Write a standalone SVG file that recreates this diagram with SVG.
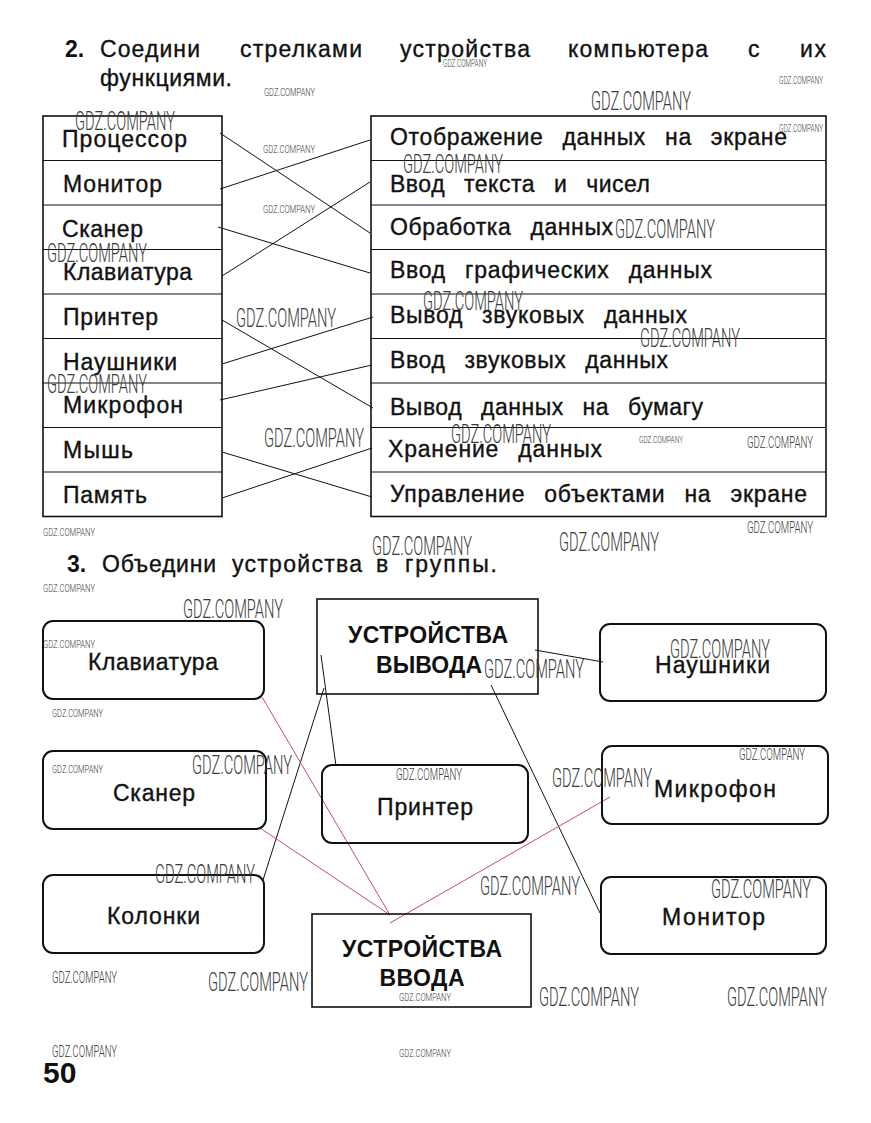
<svg xmlns="http://www.w3.org/2000/svg" width="871" height="1123" viewBox="0 0 871 1123">
<style>
.t{font-family:"Liberation Sans",Arial,sans-serif;font-size:23px;fill:#111;stroke:#111;stroke-width:0.35}
.b{font-family:"Liberation Sans",Arial,sans-serif;font-size:23px;font-weight:bold;fill:#111}
.rt{word-spacing:12px}
.box{fill:none;stroke:#111;stroke-width:1.6}
.rbox{fill:none;stroke:#111;stroke-width:2}
.ln{stroke:#111;stroke-width:1;fill:none}
.pk{stroke:#c44a78;stroke-width:1;fill:none}
.wm{font-family:Roboto,"Liberation Sans",sans-serif;font-weight:300;fill:#3a3a3a}
.wl{font-size:25px}
.wmd{font-size:17px}
.ws{font-size:11px}
</style>
<rect width="871" height="1123" fill="#fff"/>

<g id="title2">
<text class="b" x="65" y="57">2.</text>
<text class="t" x="100" y="57" textLength="100">Соедини</text>
<text class="t" x="240" y="57" textLength="122">стрелками</text>
<text class="t" x="400" y="57" textLength="130">устройства</text>
<text class="t" x="568" y="57" textLength="140">компьютера</text>
<text class="t" x="748" y="57">с</text>
<text class="t" x="800" y="57" textLength="26">их</text>
<text class="t" x="100" y="86" textLength="132">функциями.</text>
</g>

<g id="left-table">
<rect class="box" x="43" y="116" width="179" height="400.5"/>
<path class="ln" stroke-width="1.4" d="M43 160.5H222M43 205H222M43 249.5H222M43 294H222M43 338.5H222M43 383H222M43 427.5H222M43 472H222"/>
<text class="t" x="62" y="147" textLength="125">Процессор</text>
<text class="t" x="63" y="192" textLength="99">Монитор</text>
<text class="t" x="62" y="237" textLength="81">Сканер</text>
<text class="t" x="63" y="280" textLength="129">Клавиатура</text>
<text class="t" x="63" y="325" textLength="95">Принтер</text>
<text class="t" x="63" y="370" textLength="114">Наушники</text>
<text class="t" x="63" y="413" textLength="120">Микрофон</text>
<text class="t" x="63" y="458" textLength="70">Мышь</text>
<text class="t" x="63" y="503" textLength="84">Память</text>
</g>

<g id="right-table">
<rect class="box" x="371" y="116" width="455" height="400.5"/>
<path class="ln" stroke-width="1.4" d="M371 160.5H826M371 205H826M371 249.5H826M371 294H826M371 338.5H826M371 383H826M371 427.5H826M371 472H826"/>
<text class="t rt" x="390" y="145" textLength="397">Отображение данных на экране</text>
<text class="t rt" x="390" y="192" textLength="260">Ввод текста и чисел</text>
<text class="t rt" x="390" y="235" textLength="223">Обработка данных</text>
<text class="t rt" x="390" y="278" textLength="322">Ввод графических данных</text>
<text class="t rt" x="390" y="323" textLength="297">Вывод звуковых данных</text>
<text class="t rt" x="390" y="368" textLength="278">Ввод звуковых данных</text>
<text class="t rt" x="390" y="415" textLength="313">Вывод данных на бумагу</text>
<text class="t rt" x="388" y="457" textLength="214">Хранение данных</text>
<text class="t rt" x="390" y="502" textLength="417">Управление объектами на экране</text>
</g>

<g id="connectors-2">
<line class="ln" x1="220" y1="133" x2="370" y2="233"/>
<line class="ln" x1="220" y1="189" x2="370" y2="140"/>
<line class="ln" x1="218" y1="227" x2="370" y2="273"/>
<line class="ln" x1="222" y1="276" x2="370" y2="182"/>
<line class="ln" x1="222" y1="320" x2="373" y2="408"/>
<line class="ln" x1="222" y1="364" x2="373" y2="317"/>
<line class="ln" x1="220" y1="400" x2="372" y2="365"/>
<line class="ln" x1="222" y1="452" x2="372" y2="497"/>
<line class="ln" x1="222" y1="498" x2="372" y2="448"/>
</g>

<g id="title3">
<text class="b" x="67" y="572">3.</text>
<text class="t" x="102" y="572" textLength="114">Объедини</text>
<text class="t" x="232" y="572" textLength="130">устройства</text>
<text class="t" x="376" y="572">в</text>
<text class="t" x="405" y="572" textLength="92">группы.</text>
</g>

<g id="connectors-3">
<line class="ln" x1="321" y1="655" x2="336" y2="766"/>
<line class="ln" x1="324" y1="688" x2="263" y2="880"/>
<line class="ln" x1="535" y1="650" x2="603" y2="662"/>
<line class="ln" x1="491" y1="685" x2="600" y2="913"/>
<line class="pk" x1="262" y1="697" x2="390" y2="915"/>
<line class="pk" x1="260" y1="828" x2="390" y2="915"/>
<line class="pk" x1="610" y1="797" x2="390" y2="923"/>
</g>

<g id="node-output">
<rect class="box" x="317" y="599" width="221" height="95"/>
<text class="b" x="428" y="643" text-anchor="middle" textLength="160">УСТРОЙСТВА</text>
<text class="b" x="429" y="673" text-anchor="middle" textLength="106">ВЫВОДА</text>
</g>
<g id="node-input">
<rect class="box" x="312" y="914" width="219" height="93"/>
<text class="b" x="422" y="957" text-anchor="middle" textLength="160">УСТРОЙСТВА</text>
<text class="b" x="422" y="986" text-anchor="middle" textLength="85">ВВОДА</text>
</g>
<g id="node-keyboard">
<rect class="rbox" x="43" y="621" width="221" height="78" rx="10"/>
<text class="t" x="88" y="670" textLength="130">Клавиатура</text>
</g>
<g id="node-scanner">
<rect class="rbox" x="43" y="751" width="223" height="78" rx="10"/>
<text class="t" x="113" y="801" textLength="82">Сканер</text>
</g>
<g id="node-speakers">
<rect class="rbox" x="43" y="875" width="221" height="78" rx="10"/>
<text class="t" x="107" y="924" textLength="93">Колонки</text>
</g>
<g id="node-printer">
<rect class="rbox" x="322" y="765" width="206" height="78" rx="10"/>
<text class="t" x="377" y="815" textLength="96">Принтер</text>
</g>
<g id="node-headphones">
<rect class="rbox" x="600" y="624" width="226" height="77" rx="10"/>
<text class="t" x="655" y="673" textLength="115">Наушники</text>
</g>
<g id="node-microphone">
<rect class="rbox" x="602" y="746" width="226" height="78" rx="10"/>
<text class="t" x="654" y="797" textLength="122">Микрофон</text>
</g>
<g id="node-monitor">
<rect class="rbox" x="601" y="877" width="225" height="77" rx="10"/>
<text class="t" x="662" y="925" textLength="103">Монитор</text>
</g>

<g id="page-number">
<text class="b" x="43" y="1083" style="font-size:30px">50</text>
</g>

<g id="watermarks">
<text class="wm wl" x="591" y="110" textLength="100" lengthAdjust="spacingAndGlyphs">GDZ.COMPANY</text>
<text class="wm wl" x="75" y="130" textLength="100" lengthAdjust="spacingAndGlyphs">GDZ.COMPANY</text>
<text class="wm wl" x="403" y="173" textLength="100" lengthAdjust="spacingAndGlyphs">GDZ.COMPANY</text>
<text class="wm wl" x="615" y="238" textLength="100" lengthAdjust="spacingAndGlyphs">GDZ.COMPANY</text>
<text class="wm wl" x="47" y="262" textLength="100" lengthAdjust="spacingAndGlyphs">GDZ.COMPANY</text>
<text class="wm wl" x="423" y="310" textLength="100" lengthAdjust="spacingAndGlyphs">GDZ.COMPANY</text>
<text class="wm wl" x="236" y="327" textLength="100" lengthAdjust="spacingAndGlyphs">GDZ.COMPANY</text>
<text class="wm wl" x="640" y="347" textLength="100" lengthAdjust="spacingAndGlyphs">GDZ.COMPANY</text>
<text class="wm wl" x="47" y="393" textLength="100" lengthAdjust="spacingAndGlyphs">GDZ.COMPANY</text>
<text class="wm wl" x="451" y="443" textLength="100" lengthAdjust="spacingAndGlyphs">GDZ.COMPANY</text>
<text class="wm wl" x="264" y="447" textLength="100" lengthAdjust="spacingAndGlyphs">GDZ.COMPANY</text>
<text class="wm wl" x="372" y="555" textLength="100" lengthAdjust="spacingAndGlyphs">GDZ.COMPANY</text>
<text class="wm wl" x="559" y="551" textLength="100" lengthAdjust="spacingAndGlyphs">GDZ.COMPANY</text>
<text class="wm wl" x="183" y="618" textLength="100" lengthAdjust="spacingAndGlyphs">GDZ.COMPANY</text>
<text class="wm wl" x="670" y="658" textLength="100" lengthAdjust="spacingAndGlyphs">GDZ.COMPANY</text>
<text class="wm wl" x="484" y="678" textLength="100" lengthAdjust="spacingAndGlyphs">GDZ.COMPANY</text>
<text class="wm wl" x="192" y="774" textLength="100" lengthAdjust="spacingAndGlyphs">GDZ.COMPANY</text>
<text class="wm wl" x="552" y="787" textLength="100" lengthAdjust="spacingAndGlyphs">GDZ.COMPANY</text>
<text class="wm wl" x="155" y="883" textLength="100" lengthAdjust="spacingAndGlyphs">GDZ.COMPANY</text>
<text class="wm wl" x="480" y="895" textLength="100" lengthAdjust="spacingAndGlyphs">GDZ.COMPANY</text>
<text class="wm wl" x="711" y="898" textLength="100" lengthAdjust="spacingAndGlyphs">GDZ.COMPANY</text>
<text class="wm wl" x="208" y="991" textLength="100" lengthAdjust="spacingAndGlyphs">GDZ.COMPANY</text>
<text class="wm wl" x="539" y="1006" textLength="100" lengthAdjust="spacingAndGlyphs">GDZ.COMPANY</text>
<text class="wm wl" x="727" y="1006" textLength="100" lengthAdjust="spacingAndGlyphs">GDZ.COMPANY</text>
<text class="wm wmd" x="747" y="448" textLength="66" lengthAdjust="spacingAndGlyphs">GDZ.COMPANY</text>
<text class="wm wmd" x="747" y="533" textLength="66" lengthAdjust="spacingAndGlyphs">GDZ.COMPANY</text>
<text class="wm wmd" x="396" y="780" textLength="66" lengthAdjust="spacingAndGlyphs">GDZ.COMPANY</text>
<text class="wm wmd" x="739" y="760" textLength="66" lengthAdjust="spacingAndGlyphs">GDZ.COMPANY</text>
<text class="wm wmd" x="52" y="983" textLength="65" lengthAdjust="spacingAndGlyphs">GDZ.COMPANY</text>
<text class="wm wmd" x="52" y="1057" textLength="65" lengthAdjust="spacingAndGlyphs">GDZ.COMPANY</text>
<text class="wm ws" x="443" y="67" textLength="44" lengthAdjust="spacingAndGlyphs">GDZ.COMPANY</text>
<text class="wm ws" x="264" y="96" textLength="51" lengthAdjust="spacingAndGlyphs">GDZ.COMPANY</text>
<text class="wm ws" x="779" y="84" textLength="44" lengthAdjust="spacingAndGlyphs">GDZ.COMPANY</text>
<text class="wm ws" x="779" y="132" textLength="44" lengthAdjust="spacingAndGlyphs">GDZ.COMPANY</text>
<text class="wm ws" x="263" y="153" textLength="52" lengthAdjust="spacingAndGlyphs">GDZ.COMPANY</text>
<text class="wm ws" x="263" y="213" textLength="52" lengthAdjust="spacingAndGlyphs">GDZ.COMPANY</text>
<text class="wm ws" x="639" y="443" textLength="44" lengthAdjust="spacingAndGlyphs" style="font-size:9px">GDZ.COMPANY</text>
<text class="wm ws" x="43" y="536" textLength="52" lengthAdjust="spacingAndGlyphs">GDZ.COMPANY</text>
<text class="wm ws" x="43" y="592" textLength="52" lengthAdjust="spacingAndGlyphs">GDZ.COMPANY</text>
<text class="wm ws" x="43" y="648" textLength="52" lengthAdjust="spacingAndGlyphs">GDZ.COMPANY</text>
<text class="wm ws" x="52" y="717" textLength="51" lengthAdjust="spacingAndGlyphs">GDZ.COMPANY</text>
<text class="wm ws" x="52" y="773" textLength="51" lengthAdjust="spacingAndGlyphs">GDZ.COMPANY</text>
<text class="wm ws" x="399" y="1001" textLength="52" lengthAdjust="spacingAndGlyphs">GDZ.COMPANY</text>
<text class="wm ws" x="399" y="1057" textLength="52" lengthAdjust="spacingAndGlyphs">GDZ.COMPANY</text>
</g>
</svg>
